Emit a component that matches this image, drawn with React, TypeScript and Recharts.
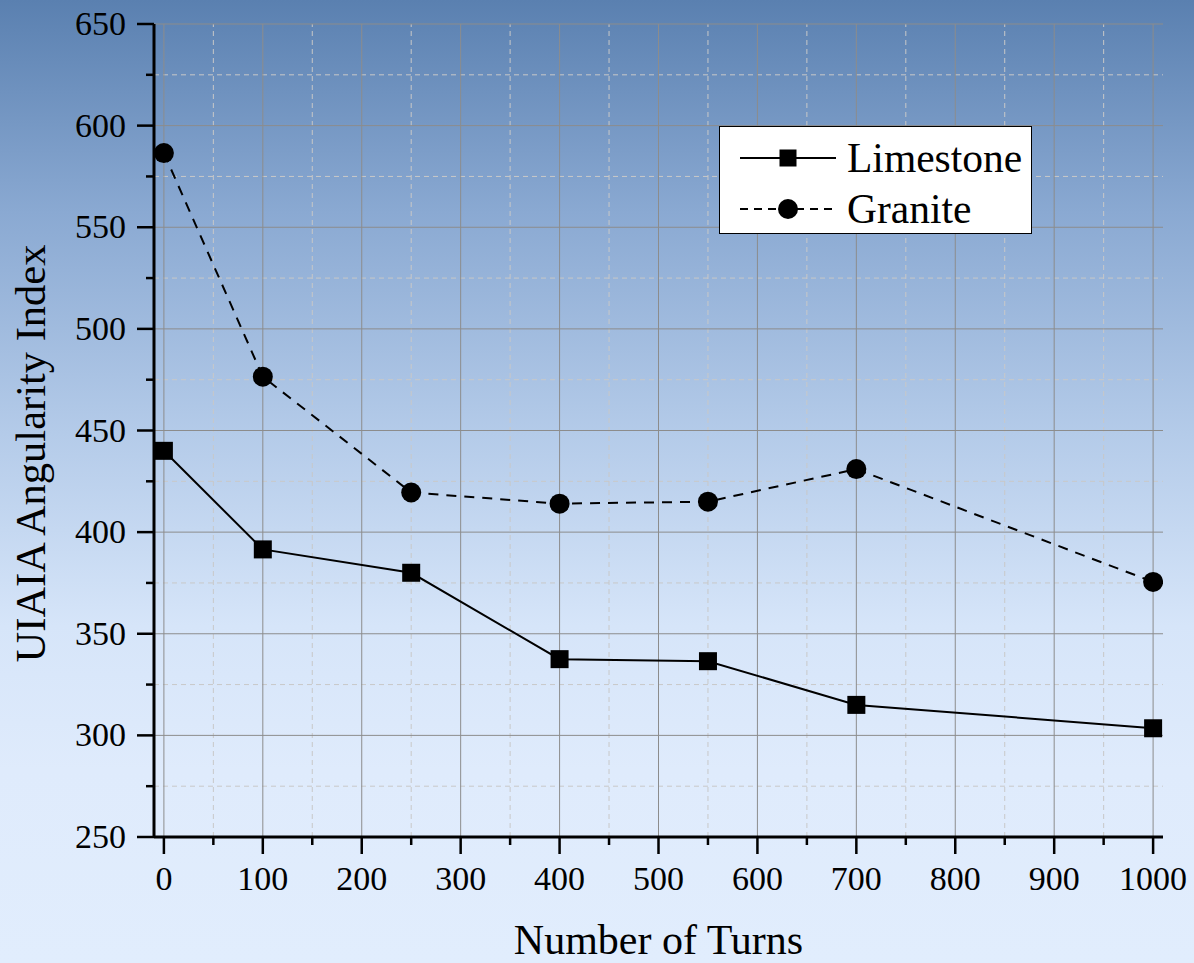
import React from 'react';
import { LineChart, Line, XAxis, YAxis, ReferenceLine, Label } from 'recharts';

const turns = [0, 100, 250, 400, 550, 700, 1000];
const limestone = [440, 391.5, 380, 337.5, 336.5, 315, 303.5];
const granite = [586.5, 476.5, 419.5, 414, 415, 431, 375.5];

const xMajor = [0, 100, 200, 300, 400, 500, 600, 700, 800, 900, 1000];
const xMinor = [50, 150, 250, 350, 450, 550, 650, 750, 850, 950];
const yMajor = [250, 300, 350, 400, 450, 500, 550, 600, 650];
const yMinor = [275, 325, 375, 425, 475, 525, 575, 625];

const FONT = '"Liberation Serif", "Times New Roman", serif';
const W = 1194;
const H = 963;

const xTicks = [...xMajor, ...xMinor].sort((a, b) => a - b);
const yTicks = [...yMajor, ...yMinor].sort((a, b) => a - b);

const chartData = turns.map((t, i) => ({
  turns: t,
  limestone: limestone[i],
  granite: granite[i],
}));

const isMajorX = (v: number) => xMajor.includes(v);
const isMajorY = (v: number) => yMajor.includes(v);

const BottomTick = (props: any) => {
  const { x, y, payload } = props;
  const major = isMajorX(payload.value);
  return (
    <g>
      <line x1={x} y1={y} x2={x} y2={y + (major ? 17 : 8)} stroke="#000" strokeWidth={2.5} />
      {major && (
        <text x={x} y={y + 53} textAnchor="middle" fontSize={34} fontFamily={FONT} fill="#000">
          {payload.value}
        </text>
      )}
    </g>
  );
};

const TopTick = (props: any) => {
  const { x, y, payload } = props;
  const major = isMajorX(payload.value);
  return <line x1={x} y1={y} x2={x} y2={y + (major ? 17 : 8)} stroke="#000" strokeWidth={2.5} />;
};

const LeftTick = (props: any) => {
  const { x, y, payload } = props;
  const major = isMajorY(payload.value);
  return (
    <g>
      <line x1={x} y1={y} x2={x - (major ? 17 : 8)} y2={y} stroke="#000" strokeWidth={2.5} />
      {major && (
        <text x={x - 28} y={y + 11} textAnchor="end" fontSize={34} fontFamily={FONT} fill="#000">
          {payload.value}
        </text>
      )}
    </g>
  );
};

const RightTick = (props: any) => {
  const { x, y, payload } = props;
  const major = isMajorY(payload.value);
  return <line x1={x} y1={y} x2={x - (major ? 17 : 8)} y2={y} stroke="#000" strokeWidth={2.5} />;
};

const SquareDot = (props: any) => {
  const { cx, cy, index } = props;
  return <rect key={`sq-${index}`} x={cx - 9} y={cy - 9} width={18} height={18} fill="#000" />;
};

const CircleDot = (props: any) => {
  const { cx, cy, index } = props;
  return <circle key={`ci-${index}`} cx={cx} cy={cy} r={10} fill="#000" />;
};

const LegendBox = () => (
  <div
    style={{
      position: 'absolute',
      left: 719,
      top: 126,
      width: 313,
      height: 108,
      background: '#fff',
      border: '1px solid #000',
      boxSizing: 'border-box',
    }}
  >
    <svg width={313} height={108} style={{ position: 'absolute', left: -1, top: -1 }}>
      <line x1={21} y1={32} x2={117} y2={32} stroke="#000" strokeWidth={2} />
      <rect x={60.5} y={23.5} width={17} height={17} fill="#000" />
      <text x={128} y={46} fontSize={41.5} fontFamily={FONT} fill="#000">Limestone</text>
      <line x1={21} y1={83} x2={117} y2={83} stroke="#000" strokeWidth={2} strokeDasharray="8 6" />
      <circle cx={69} cy={83} r={10} fill="#000" />
      <text x={128} y={97} fontSize={41.5} fontFamily={FONT} fill="#000">Granite</text>
    </svg>
  </div>
);

export default function App() {
  return (
    <div
      style={{
        position: 'absolute',
        left: 0,
        top: 0,
        width: W,
        height: H,
        background:
          'linear-gradient(to bottom, #5a80b0 0%, #8aa9d2 22%, #b4cbe9 45%, #d6e5f9 65%, #dfebfc 80%, #e1edfd 100%)',
      }}
    >
      <LineChart width={W} height={H} data={chartData} margin={{ top: 24, right: 31, left: 0, bottom: 0 }}>
        {xMinor.map((v) => (
          <ReferenceLine key={`xm-${v}`} x={v} xAxisId="b" yAxisId="l" stroke="#c8c8c8" strokeDasharray="5 4" />
        ))}
        {yMinor.map((v) => (
          <ReferenceLine key={`ym-${v}`} y={v} xAxisId="b" yAxisId="l" stroke="#c8c8c8" strokeDasharray="5 4" />
        ))}
        {xMajor.map((v) => (
          <ReferenceLine key={`xM-${v}`} x={v} xAxisId="b" yAxisId="l" stroke="#8c8c8c" />
        ))}
        {yMajor.map((v) => (
          <ReferenceLine key={`yM-${v}`} y={v} xAxisId="b" yAxisId="l" stroke="#8c8c8c" />
        ))}
        <XAxis
          xAxisId="b"
          dataKey="turns"
          type="number"
          domain={[-10, 1010]}
          ticks={xTicks}
          interval={0}
          height={126}
          tickSize={0}
          tickMargin={0}
          tickLine={false}
          tick={<BottomTick />}
          axisLine={{ stroke: '#000', strokeWidth: 3 }}
          allowDataOverflow
        >
          <Label
            content={(p: any) => {
              const vb = p.viewBox;
              return (
                <text x={vb.x + vb.width / 2} y={954} textAnchor="middle" fontSize={42} fontFamily={FONT} fill="#000">
                  Number of Turns
                </text>
              );
            }}
          />
        </XAxis>
        <XAxis
          xAxisId="t"
          orientation="top"
          dataKey="turns"
          type="number"
          domain={[-10, 1010]}
          ticks={xTicks}
          interval={0}
          height={0}
          tickSize={0}
          tickMargin={0}
          tickLine={false}
          tick={<TopTick />}
          axisLine={{ stroke: '#000', strokeWidth: 3 }}
          allowDataOverflow
        />
        <YAxis
          yAxisId="l"
          type="number"
          domain={[250, 650]}
          ticks={yTicks}
          interval={0}
          width={154}
          tickSize={0}
          tickMargin={0}
          tickLine={false}
          tick={<LeftTick />}
          axisLine={{ stroke: '#000', strokeWidth: 3 }}
          allowDataOverflow
        >
          <Label
            content={(p: any) => {
              const vb = p.viewBox;
              const cy = vb.y + vb.height / 2 + 23;
              return (
                <text
                  transform={`translate(45, ${cy}) rotate(-90)`}
                  textAnchor="middle"
                  fontSize={42.5}
                  fontFamily={FONT}
                  fill="#000"
                >
                  UIAIA Angularity Index
                </text>
              );
            }}
          />
        </YAxis>
        <YAxis
          yAxisId="r"
          orientation="right"
          type="number"
          domain={[250, 650]}
          ticks={yTicks}
          interval={0}
          width={0}
          tickSize={0}
          tickMargin={0}
          tickLine={false}
          tick={<RightTick />}
          axisLine={{ stroke: '#000', strokeWidth: 3 }}
          allowDataOverflow
        />
        <Line
          xAxisId="b"
          yAxisId="l"
          dataKey="limestone"
          type="linear"
          stroke="#000"
          strokeWidth={2}
          dot={<SquareDot />}
          activeDot={false}
          isAnimationActive={false}
        />
        <Line
          xAxisId="b"
          yAxisId="l"
          dataKey="granite"
          type="linear"
          stroke="#000"
          strokeWidth={2}
          strokeDasharray="10 8"
          dot={<CircleDot />}
          activeDot={false}
          isAnimationActive={false}
        />
      </LineChart>
      <LegendBox />
    </div>
  );
}
